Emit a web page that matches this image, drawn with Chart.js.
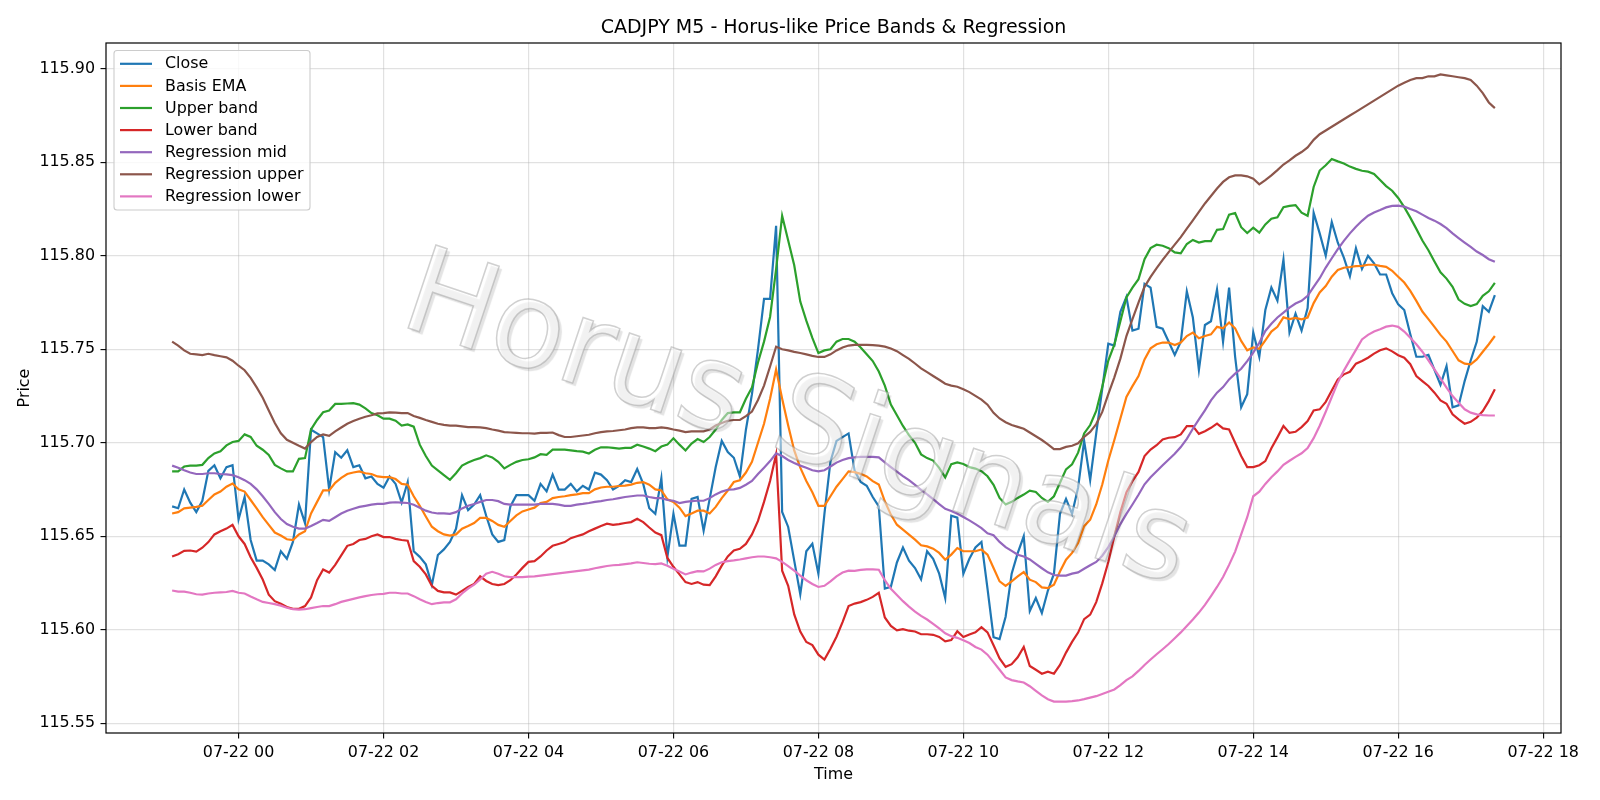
<!DOCTYPE html>
<html>
<head>
<meta charset="utf-8">
<script src="https://cdn.jsdelivr.net/npm/chart.js@4.4.1/dist/chart.umd.min.js"></script>
<style>html,body{margin:0;padding:0;background:#fff;}canvas{display:block;}</style>
</head>
<body>
<canvas id="c" width="1600" height="800" style="width:1600px;height:800px"></canvas>
<script>
// ---- data (5-minute bars, first bar 07-21 23:05, hours relative to 07-22 00:00) ----
const startHour = -55 / 60;
const stepHours = 5 / 60;
const seriesNames = ["Close", "Basis EMA", "Upper band", "Lower band", "Regression mid", "Regression upper", "Regression lower"];
const seriesColors = ["#1f77b4", "#ff7f0e", "#2ca02c", "#d62728", "#9467bd", "#8c564b", "#e377c2"];
const xTickHours = [0, 2, 4, 6, 8, 10, 12, 14, 16, 18];
const xTickLabels = ["07-22 00", "07-22 02", "07-22 04", "07-22 06", "07-22 08", "07-22 10", "07-22 12", "07-22 14", "07-22 16", "07-22 18"];
const yTickValues = [115.55, 115.60, 115.65, 115.70, 115.75, 115.80, 115.85, 115.90];
const yTickLabels = ["115.55", "115.60", "115.65", "115.70", "115.75", "115.80", "115.85", "115.90"];

const closePrice = [
115.666,115.665,115.675,115.668,115.663,115.669,115.685,115.688,115.681,115.687,
115.688,115.659,115.671,115.648,115.637,115.637,115.635,115.632,115.642,115.638,
115.647,115.667,115.657,115.707,115.705,115.703,115.675,115.695,115.692,115.696,
115.687,115.688,115.681,115.682,115.678,115.676,115.682,115.678,115.668,115.679,
115.642,115.639,115.635,115.624,115.640,115.643,115.647,115.654,115.672,115.664,
115.667,115.672,115.661,115.651,115.647,115.648,115.666,115.672,115.672,115.672,
115.669,115.678,115.674,115.683,115.675,115.675,115.678,115.674,115.677,115.675,
115.684,115.683,115.680,115.675,115.677,115.680,115.679,115.686,115.678,115.665,
115.662,115.681,115.639,115.662,115.645,115.645,115.670,115.671,115.653,115.670,
115.687,115.701,115.695,115.692,115.682,115.707,115.726,115.750,115.777,115.777,
115.816,115.663,115.655,115.637,115.619,115.642,115.646,115.630,115.662,115.690,
115.701,115.703,115.705,115.685,115.679,115.677,115.671,115.666,115.622,115.623,
115.636,115.644,115.637,115.633,115.627,115.642,115.638,115.630,115.617,115.661,
115.660,115.630,115.638,115.644,115.647,115.622,115.596,115.595,115.607,115.630,
115.641,115.650,115.610,115.617,115.609,115.621,115.630,115.662,115.670,115.662,
115.676,115.701,115.680,115.705,115.729,115.753,115.752,115.770,115.778,115.760,
115.761,115.785,115.783,115.762,115.761,115.754,115.747,115.754,115.781,115.767,
115.739,115.763,115.765,115.782,115.754,115.783,115.746,115.719,115.726,115.759,
115.746,115.771,115.783,115.776,115.798,115.759,115.769,115.760,115.772,115.823,
115.812,115.800,115.818,115.807,115.799,115.789,115.804,115.793,115.800,115.796,
115.790,115.790,115.780,115.774,115.771,115.758,115.746,115.746,115.747,115.739,
115.731,115.741,115.719,115.720,115.733,115.744,115.754,115.773,115.770,115.779];

const basisEma = [
115.6622,115.6629,115.6649,115.6653,115.6657,115.6663,115.6694,115.6724,115.6739,115.6765,
115.6782,115.6751,115.6739,115.6694,115.6649,115.6602,115.6561,115.6520,115.6504,115.6484,
115.6480,115.6510,115.6527,115.6622,115.6684,115.6745,115.6745,115.6786,115.6812,115.6833,
115.6841,115.6847,115.6837,115.6833,115.6820,115.6816,115.6816,115.6806,115.6780,115.6776,
115.6714,115.6663,115.6606,115.6551,115.6527,115.6510,115.6504,115.6510,115.6541,115.6555,
115.6571,115.6598,115.6598,115.6582,115.6561,115.6551,115.6582,115.6612,115.6633,115.6643,
115.6653,115.6678,115.6684,115.6704,115.6710,115.6714,115.6720,115.6724,115.6731,115.6731,
115.6751,115.6761,115.6765,115.6765,115.6769,115.6771,115.6776,115.6786,115.6790,115.6776,
115.6751,115.6745,115.6698,115.6684,115.6653,115.6608,115.6622,115.6637,115.6637,115.6622,
115.6657,115.6704,115.6745,115.6790,115.6800,115.6841,115.6898,115.7000,115.7102,115.7235,
115.7392,115.7235,115.7092,115.6959,115.6867,115.6796,115.6735,115.6663,115.6663,115.6714,
115.6765,115.6806,115.6847,115.6843,115.6834,115.6820,115.6795,115.6777,115.6687,115.6616,
115.6562,115.6536,115.6509,115.6482,115.6452,115.6446,115.6434,115.6411,115.6375,115.6402,
115.6437,115.6420,115.6420,115.6420,115.6429,115.6402,115.6330,115.6259,115.6235,115.6259,
115.6286,115.6309,115.6268,115.6255,115.6227,115.6223,115.6241,115.6312,115.6375,115.6411,
115.6464,115.6554,115.6589,115.6670,115.6777,115.6905,115.7015,115.7130,115.7245,115.7303,
115.7357,115.7446,115.7505,115.7527,115.7536,115.7536,115.7523,115.7536,115.7571,115.7589,
115.7559,115.7571,115.7580,115.7620,115.7612,115.7643,115.7612,115.7545,115.7495,115.7510,
115.7503,115.7548,115.7595,115.7620,115.7671,115.7662,115.7668,115.7660,115.7670,115.7747,
115.7804,115.7838,115.7888,115.7924,115.7936,115.7940,115.7945,115.7946,115.7952,115.7952,
115.7946,115.7941,115.7920,115.7888,115.7857,115.7812,115.7759,115.7702,115.7661,115.7620,
115.7577,115.7541,115.7491,115.7441,115.7423,115.7420,115.7446,115.7487,115.7527,115.7571];

const upperBand = [
115.6847,115.6847,115.6873,115.6878,115.6878,115.6882,115.6918,115.6943,115.6955,115.6986,
115.7004,115.7010,115.7045,115.7031,115.6984,115.6963,115.6935,115.6882,115.6863,115.6847,
115.6847,115.6914,115.6918,115.7071,115.7122,115.7163,115.7173,115.7208,115.7208,115.7210,
115.7212,115.7204,115.7184,115.7159,115.7147,115.7129,115.7129,115.7118,115.7092,115.7098,
115.7086,115.6990,115.6929,115.6878,115.6853,115.6827,115.6802,115.6837,115.6878,115.6894,
115.6908,115.6918,115.6933,115.6922,115.6898,115.6863,115.6882,115.6898,115.6908,115.6912,
115.6922,115.6939,115.6935,115.6963,115.6963,115.6963,115.6959,115.6955,115.6953,115.6943,
115.6963,115.6976,115.6976,115.6973,115.6969,115.6973,115.6973,115.6990,115.6980,115.6969,
115.6955,115.6980,115.6990,115.7024,115.6990,115.6959,115.6996,115.7020,115.7004,115.7031,
115.7071,115.7122,115.7159,115.7163,115.7163,115.7235,115.7296,115.7429,115.7541,115.7673,
115.7929,115.8214,115.8082,115.7949,115.7755,115.7653,115.7561,115.7480,115.7494,115.7500,
115.7541,115.7555,115.7555,115.7541,115.7510,115.7473,115.7437,115.7381,115.7306,115.7204,
115.7147,115.7090,115.7041,115.7000,115.6938,115.6918,115.6905,115.6866,115.6815,115.6886,
115.6895,115.6887,115.6870,115.6862,115.6848,115.6821,115.6775,115.6705,115.6670,115.6684,
115.6705,115.6723,115.6744,115.6737,115.6705,115.6684,115.6714,115.6786,115.6858,115.6885,
115.6947,115.7050,115.7095,115.7170,115.7300,115.7440,115.7525,115.7650,115.7777,115.7830,
115.7875,115.7982,115.8041,115.8059,115.8054,115.8041,115.8018,115.8013,115.8063,115.8085,
115.8071,115.8078,115.8078,115.8139,115.8143,115.8220,115.8229,115.8153,115.8122,115.8150,
115.8124,115.8168,115.8198,115.8206,115.8260,115.8267,115.8271,115.8231,115.8214,115.8368,
115.8456,115.8484,115.8518,115.8505,115.8494,115.8477,115.8465,115.8455,115.8450,115.8438,
115.8405,115.8373,115.8348,115.8309,115.8260,115.8204,115.8144,115.8082,115.8030,115.7970,
115.7912,115.7878,115.7834,115.7766,115.7743,115.7731,115.7742,115.7786,115.7810,115.7855];

const lowerBand = [
115.6392,115.6404,115.6422,115.6424,115.6418,115.6439,115.6469,115.6510,115.6527,115.6541,
115.6561,115.6500,115.6459,115.6388,115.6331,115.6269,115.6188,115.6153,115.6139,115.6122,
115.6112,115.6112,115.6127,115.6173,115.6265,115.6322,115.6306,115.6347,115.6398,115.6449,
115.6459,115.6480,115.6486,115.6500,115.6510,115.6496,115.6496,115.6486,115.6480,115.6476,
115.6367,115.6337,115.6296,115.6235,115.6208,115.6200,115.6200,115.6188,115.6208,115.6229,
115.6245,115.6286,115.6261,115.6245,115.6239,115.6245,115.6265,115.6296,115.6331,115.6363,
115.6367,115.6392,115.6424,115.6449,115.6459,115.6469,115.6490,115.6500,115.6510,115.6527,
115.6541,115.6555,115.6567,115.6561,115.6565,115.6571,115.6576,115.6594,115.6576,115.6547,
115.6520,115.6506,115.6384,115.6337,115.6296,115.6255,115.6245,115.6255,115.6241,115.6239,
115.6286,115.6343,115.6392,115.6424,115.6433,115.6459,115.6510,115.6582,115.6684,115.6796,
115.6939,115.6316,115.6235,115.6082,115.5990,115.5935,115.5918,115.5867,115.5841,115.5898,
115.5963,115.6041,115.6127,115.6140,115.6148,115.6160,115.6176,115.6198,115.6066,115.6021,
115.5997,115.6003,115.5995,115.5991,115.5976,115.5976,115.5973,115.5962,115.5938,115.5945,
115.5992,115.5961,115.5975,115.5986,115.6014,115.5986,115.5917,115.5847,115.5802,115.5816,
115.5853,115.5908,115.5806,115.5786,115.5765,115.5776,115.5765,115.5812,115.5878,115.5935,
115.5985,115.6057,115.6081,115.6148,115.6248,115.6362,115.6500,115.6630,115.6735,115.6795,
115.6844,115.6929,115.6964,115.6987,115.7018,115.7027,115.7030,115.7045,115.7089,115.7089,
115.7048,115.7062,115.7080,115.7102,115.7077,115.7071,115.7000,115.6929,115.6870,115.6870,
115.6880,115.6902,115.6971,115.7029,115.7090,115.7053,115.7059,115.7084,115.7116,115.7173,
115.7179,115.7219,115.7280,115.7339,115.7366,115.7380,115.7423,115.7437,115.7455,115.7477,
115.7495,115.7505,115.7489,115.7468,115.7455,115.7420,115.7357,115.7330,115.7304,115.7268,
115.7227,115.7209,115.7152,115.7125,115.7102,115.7112,115.7134,115.7170,115.7223,115.7286];

const regressionMid = [
115.6878,115.6867,115.6853,115.6841,115.6833,115.6833,115.6837,115.6837,115.6833,115.6831,
115.6827,115.6816,115.6800,115.6780,115.6751,115.6714,115.6673,115.6629,115.6592,115.6565,
115.6551,115.6541,115.6541,115.6555,115.6571,115.6588,115.6582,115.6602,115.6622,115.6637,
115.6647,115.6657,115.6663,115.6669,115.6673,115.6673,115.6680,115.6682,115.6680,115.6678,
115.6669,115.6653,115.6637,115.6627,115.6622,115.6622,115.6620,115.6629,115.6649,115.6663,
115.6673,115.6684,115.6694,115.6694,115.6688,115.6673,115.6669,115.6669,115.6669,115.6669,
115.6669,115.6673,115.6673,115.6673,115.6669,115.6663,115.6663,115.6669,115.6673,115.6678,
115.6684,115.6688,115.6694,115.6698,115.6704,115.6710,115.6714,115.6718,115.6718,115.6710,
115.6704,115.6704,115.6694,115.6690,115.6678,115.6684,115.6688,115.6690,115.6690,115.6704,
115.6724,115.6739,115.6749,115.6751,115.6759,115.6776,115.6796,115.6833,115.6867,115.6902,
115.6943,115.6929,115.6908,115.6892,115.6878,115.6867,115.6853,115.6847,115.6853,115.6873,
115.6894,115.6908,115.6918,115.6922,115.6925,115.6925,115.6925,115.6922,115.6895,115.6870,
115.6846,115.6822,115.6800,115.6775,115.6748,115.6724,115.6699,115.6672,115.6647,115.6635,
115.6620,115.6603,115.6585,115.6565,115.6544,115.6516,115.6506,115.6470,115.6442,115.6422,
115.6401,115.6392,115.6376,115.6352,115.6329,115.6307,115.6293,115.6290,115.6290,115.6300,
115.6307,115.6326,115.6345,115.6363,115.6396,115.6442,115.6500,115.6565,115.6620,115.6670,
115.6722,115.6778,115.6816,115.6848,115.6880,115.6911,115.6941,115.6977,115.7021,115.7075,
115.7125,115.7173,115.7227,115.7268,115.7298,115.7339,115.7370,115.7396,115.7437,115.7482,
115.7535,115.7598,115.7637,115.7670,115.7696,115.7723,115.7745,115.7759,115.7786,115.7834,
115.7880,115.7937,115.7987,115.8036,115.8080,115.8120,115.8155,115.8187,115.8214,115.8232,
115.8245,115.8259,115.8267,115.8268,115.8263,115.8250,115.8238,115.8220,115.8202,115.8188,
115.8170,115.8148,115.8120,115.8095,115.8071,115.8048,115.8023,115.8004,115.7982,115.7968];

const regressionUpper = [
115.7541,115.7520,115.7494,115.7476,115.7473,115.7469,115.7476,115.7469,115.7463,115.7457,
115.7439,115.7412,115.7388,115.7347,115.7296,115.7241,115.7173,115.7106,115.7051,115.7016,
115.7000,115.6984,115.6969,115.7004,115.7031,115.7045,115.7037,115.7061,115.7082,115.7102,
115.7116,115.7129,115.7139,115.7147,115.7157,115.7159,115.7163,115.7161,115.7159,115.7159,
115.7143,115.7133,115.7122,115.7112,115.7102,115.7096,115.7092,115.7092,115.7088,115.7084,
115.7084,115.7082,115.7078,115.7071,115.7065,115.7057,115.7055,115.7053,115.7051,115.7051,
115.7049,115.7053,115.7053,115.7055,115.7041,115.7031,115.7031,115.7035,115.7039,115.7043,
115.7051,115.7057,115.7061,115.7063,115.7067,115.7071,115.7078,115.7082,115.7082,115.7078,
115.7078,115.7082,115.7078,115.7071,115.7065,115.7057,115.7061,115.7061,115.7061,115.7071,
115.7092,115.7106,115.7118,115.7122,115.7122,115.7143,115.7167,115.7229,115.7306,115.7408,
115.7514,115.7500,115.7494,115.7486,115.7480,115.7473,115.7465,115.7459,115.7459,115.7473,
115.7494,115.7510,115.7520,115.7524,115.7524,115.7524,115.7522,115.7520,115.7514,115.7504,
115.7490,115.7469,115.7449,115.7424,115.7398,115.7378,115.7357,115.7337,115.7316,115.7306,
115.7300,115.7286,115.7271,115.7251,115.7231,115.7204,115.7160,115.7130,115.7110,115.7095,
115.7085,115.7075,115.7055,115.7035,115.7015,115.6992,115.6966,115.6966,115.6978,115.6984,
115.6997,115.7032,115.7058,115.7100,115.7165,115.7260,115.7350,115.7450,115.7571,115.7661,
115.7750,115.7834,115.7887,115.7934,115.7978,115.8020,115.8060,115.8100,115.8145,115.8190,
115.8235,115.8280,115.8320,115.8360,115.8395,115.8420,115.8430,115.8430,115.8425,115.8412,
115.8382,115.8405,115.8430,115.8458,115.8488,115.8510,115.8535,115.8555,115.8580,115.8620,
115.8650,115.8670,115.8690,115.8710,115.8730,115.8750,115.8770,115.8790,115.8810,115.8830,
115.8850,115.8870,115.8890,115.8910,115.8925,115.8940,115.8950,115.8950,115.8960,115.8960,
115.8970,115.8965,115.8960,115.8955,115.8950,115.8940,115.8910,115.8870,115.8820,115.8790];

const regressionLower = [
115.6210,115.6204,115.6204,115.6198,115.6190,115.6188,115.6194,115.6198,115.6200,115.6202,
115.6208,115.6198,115.6194,115.6178,115.6163,115.6149,115.6143,115.6137,115.6129,115.6118,
115.6110,115.6108,115.6110,115.6116,115.6122,115.6127,115.6127,115.6137,115.6149,115.6157,
115.6165,115.6173,115.6180,115.6186,115.6190,115.6192,115.6198,115.6198,115.6194,115.6194,
115.6180,115.6163,115.6149,115.6137,115.6143,115.6147,115.6147,115.6163,115.6194,115.6220,
115.6241,115.6269,115.6300,115.6310,115.6300,115.6286,115.6282,115.6282,115.6282,115.6284,
115.6286,115.6290,115.6294,115.6298,115.6302,115.6306,115.6310,115.6314,115.6318,115.6322,
115.6329,115.6335,115.6341,115.6345,115.6347,115.6351,115.6355,115.6361,115.6357,115.6353,
115.6351,115.6355,115.6343,115.6327,115.6312,115.6296,115.6306,115.6314,115.6312,115.6327,
115.6347,115.6361,115.6367,115.6371,115.6376,115.6382,115.6388,115.6392,115.6392,115.6388,
115.6382,115.6363,115.6341,115.6316,115.6290,115.6265,115.6245,115.6229,115.6235,115.6259,
115.6286,115.6306,115.6316,115.6315,115.6320,115.6323,115.6323,115.6321,115.6265,115.6219,
115.6186,115.6153,115.6124,115.6097,115.6074,115.6055,115.6031,115.6007,115.5981,115.5966,
115.5957,115.5944,115.5929,115.5908,115.5894,115.5867,115.5827,115.5786,115.5745,115.5731,
115.5724,115.5718,115.5698,115.5673,115.5649,115.5629,115.5616,115.5616,115.5616,115.5618,
115.5622,115.5629,115.5637,115.5645,115.5657,115.5669,115.5681,115.5704,115.5731,115.5751,
115.5780,115.5812,115.5841,115.5869,115.5896,115.5924,115.5955,115.5986,115.6020,115.6055,
115.6092,115.6133,115.6180,115.6229,115.6282,115.6347,115.6418,115.6510,115.6602,115.6714,
115.6739,115.6780,115.6816,115.6847,115.6882,115.6904,115.6925,115.6944,115.6972,115.7025,
115.7091,115.7166,115.7245,115.7323,115.7386,115.7442,115.7497,115.7553,115.7577,115.7595,
115.7607,115.7621,115.7627,115.7620,115.7595,115.7562,115.7527,115.7487,115.7441,115.7393,
115.7345,115.7295,115.7250,115.7214,115.7179,115.7161,115.7152,115.7148,115.7146,115.7146];

// ---- build chart ----
const seriesValues = [closePrice, basisEma, upperBand, lowerBand, regressionMid, regressionUpper, regressionLower];
const barHours = closePrice.map((_, i) => startHour + i * stepHours);

const FONT = '"DejaVu Sans", "Liberation Sans", sans-serif';
const gridColor = 'rgba(176,176,176,0.38)';

const datasets = seriesValues.map((vals, k) => ({
  label: seriesNames[k],
  data: vals.map((v, i) => ({ x: barHours[i], y: v })),
  borderColor: seriesColors[k],
  backgroundColor: seriesColors[k],
  borderWidth: 2.2,
  pointRadius: 0,
  pointHoverRadius: 0,
  tension: 0,
  fill: false,
  order: seriesValues.length - k   // first series drawn at the bottom, like matplotlib
}));

const decor = {
  id: 'decor',
  beforeDraw(chart) {
    const ctx = chart.ctx;
    ctx.save();
    ctx.fillStyle = '#ffffff';
    ctx.fillRect(0, 0, chart.width, chart.height);
    ctx.restore();
  },
  afterDatasetsDraw(chart) {
    // watermark
    const ctx = chart.ctx;
    ctx.save();
    ctx.translate(796, 425);
    ctx.rotate(18.5 * Math.PI / 180);
    ctx.font = '120px ' + FONT;
    ctx.textAlign = 'center';
    ctx.textBaseline = 'middle';
    ctx.shadowColor = 'rgba(0,0,0,0.22)';
    ctx.shadowOffsetX = 3;
    ctx.shadowOffsetY = 3;
    ctx.shadowBlur = 1;
    ctx.fillStyle = 'rgba(255,255,255,0.5)';
    ctx.fillText('Horus Signals', 0, 0);
    ctx.shadowColor = 'rgba(0,0,0,0)';
    ctx.lineWidth = 1.5;
    ctx.strokeStyle = 'rgba(150,150,150,0.45)';
    ctx.strokeText('Horus Signals', 0, 0);
    ctx.restore();
  },
  afterDraw(chart) {
    const ctx = chart.ctx;
    const a = chart.chartArea;
    ctx.save();
    // frame
    ctx.strokeStyle = '#000';
    ctx.lineWidth = 1.2;
    ctx.strokeRect(a.left, a.top, a.right - a.left, a.bottom - a.top);
    // title
    ctx.fillStyle = '#000';
    ctx.font = '19px ' + FONT;
    ctx.textAlign = 'center';
    ctx.textBaseline = 'alphabetic';
    ctx.fillText('CADJPY M5 - Horus-like Price Bands & Regression', (a.left + a.right) / 2, 33);
    // axis titles
    ctx.font = '15.9px ' + FONT;
    ctx.textBaseline = 'middle';
    ctx.fillText('Time', (a.left + a.right) / 2, 775);
    ctx.save();
    ctx.translate(25, (a.top + a.bottom) / 2);
    ctx.rotate(-Math.PI / 2);
    ctx.fillText('Price', 0, 0);
    ctx.restore();
    // legend (matplotlib style, upper left)
    const lx = 114, ly = 50.5, lw = 196, lh = 159.5;
    ctx.beginPath();
    if (ctx.roundRect) ctx.roundRect(lx, ly, lw, lh, 3); else ctx.rect(lx, ly, lw, lh);
    ctx.fillStyle = 'rgba(255,255,255,0.8)';
    ctx.fill();
    ctx.strokeStyle = '#cccccc';
    ctx.lineWidth = 1.1;
    ctx.stroke();
    ctx.textAlign = 'left';
    ctx.textBaseline = 'middle';
    ctx.font = '15.9px ' + FONT;
    seriesNames.forEach((name, k) => {
      const cy = 63.8 + k * 22.1;
      ctx.beginPath();
      ctx.moveTo(120, cy);
      ctx.lineTo(152, cy);
      ctx.strokeStyle = seriesColors[k];
      ctx.lineWidth = 2.2;
      ctx.stroke();
      ctx.fillStyle = '#000';
      ctx.fillText(name, 165, cy + 0.5);
    });
    ctx.restore();
  }
};

Chart.defaults.font.family = FONT;
Chart.defaults.font.size = 15.9;
Chart.defaults.color = '#000';

new Chart(document.getElementById('c'), {
  type: 'line',
  data: { datasets },
  options: {
    responsive: false,
    animation: false,
    devicePixelRatio: 1,
    events: [],
    layout: { padding: { top: 43, right: 39, left: 0, bottom: 0 } },
    plugins: { legend: { display: false }, title: { display: false }, tooltip: { enabled: false } },
    scales: {
      x: {
        type: 'linear',
        min: -1.829,
        max: 18.246,
        afterFit(scale) { scale.height = 67; },
        afterBuildTicks(scale) { scale.ticks = xTickHours.map(v => ({ value: v })); },
        ticks: {
          autoSkip: false, maxRotation: 0, minRotation: 0, padding: 5,
          callback: (v, i) => xTickLabels[i]
        },
        grid: { color: gridColor, lineWidth: 1.2, drawTicks: true, tickLength: 5.5, tickColor: '#000', tickWidth: 1.1 },
        border: { display: false }
      },
      y: {
        type: 'linear',
        min: 115.5448,
        max: 115.9138,
        afterFit(scale) { scale.width = 106; },
        afterBuildTicks(scale) { scale.ticks = yTickValues.map(v => ({ value: v })); },
        ticks: {
          autoSkip: false, padding: 5.5,
          callback: (v, i) => yTickLabels[i]
        },
        grid: { color: gridColor, lineWidth: 1.2, drawTicks: true, tickLength: 5.5, tickColor: '#000', tickWidth: 1.1 },
        border: { display: false }
      }
    }
  },
  plugins: [decor]
});
</script>
</body>
</html>
